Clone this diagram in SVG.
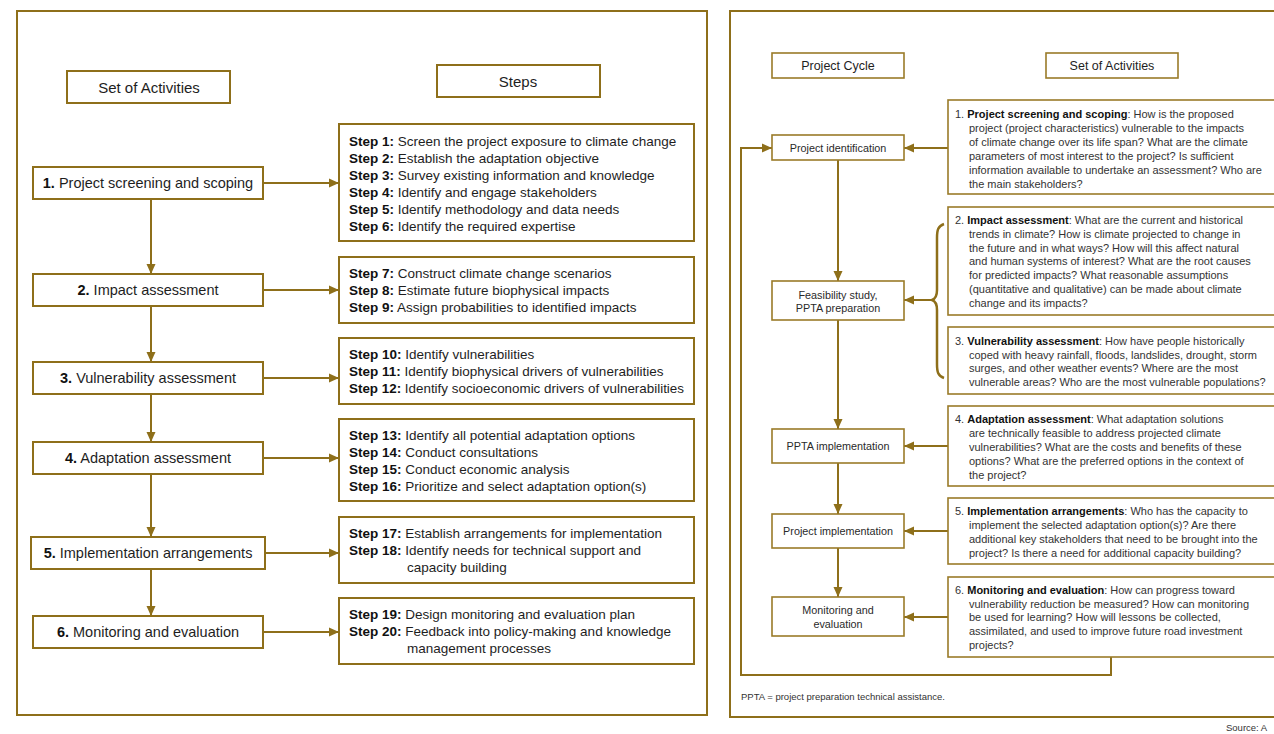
<svg xmlns="http://www.w3.org/2000/svg" width="1274" height="734" viewBox="0 0 1274 734">
<style>
.panel{fill:none;stroke:#8e6f1a;stroke-width:2}
.box{fill:#fff;stroke:#8e6f1a;stroke-width:2}
.rbox{fill:#fff;stroke:#9a7b28;stroke-width:1.6}
.ln{fill:none;stroke:#8e6f1a;stroke-width:2}
.t{font-family:"Liberation Sans",Arial,sans-serif;fill:#1e1e1e}
.hd{font-size:15px;text-anchor:middle}
.act{font-size:14.5px;text-anchor:middle}
.st{font-size:13.5px}
.rh{font-size:12.5px;text-anchor:middle}
.cy{font-size:10.8px;text-anchor:middle;fill:#2a2a2a}
.q{font-size:11px;fill:#333}
.b{font-weight:bold;fill:#111}
.fn{font-size:9.5px;fill:#333}
</style>
<defs>
<marker id="ah" markerUnits="userSpaceOnUse" markerWidth="10" markerHeight="10" viewBox="0 0 10 10" refX="10" refY="5" orient="auto">
<path d="M0,0.5 L10,5 L0,9.5 Z" fill="#8e6f1a"/>
</marker>
</defs>

<rect class="panel" x="17" y="11" width="690" height="704"/>
<rect class="panel" x="730" y="11" width="560" height="706"/>

<!-- Left panel headers -->
<g id="hdr-left-activities"><rect class="box" x="67" y="71" width="163" height="32"/><text class="t hd" x="149" y="93">Set of Activities</text></g>
<g id="hdr-left-steps"><rect class="box" x="437" y="65" width="163" height="32"/><text class="t hd" x="518" y="87">Steps</text></g>

<!-- Connectors -->
<g id="connectors">
<line class="ln" x1="151" y1="199" x2="151" y2="274" marker-end="url(#ah)"/>
<line class="ln" x1="151" y1="306" x2="151" y2="362" marker-end="url(#ah)"/>
<line class="ln" x1="151" y1="394" x2="151" y2="442" marker-end="url(#ah)"/>
<line class="ln" x1="151" y1="474" x2="151" y2="537" marker-end="url(#ah)"/>
<line class="ln" x1="151" y1="569" x2="151" y2="616" marker-end="url(#ah)"/>
<line class="ln" x1="264" y1="183" x2="339" y2="183" marker-end="url(#ah)"/>
<line class="ln" x1="264" y1="290" x2="339" y2="290" marker-end="url(#ah)"/>
<line class="ln" x1="264" y1="378" x2="339" y2="378" marker-end="url(#ah)"/>
<line class="ln" x1="264" y1="458" x2="339" y2="458" marker-end="url(#ah)"/>
<line class="ln" x1="265" y1="553" x2="339" y2="553" marker-end="url(#ah)"/>
<line class="ln" x1="264" y1="632" x2="339" y2="632" marker-end="url(#ah)"/>

<line class="ln" x1="838" y1="160" x2="838" y2="281" marker-end="url(#ah)"/>
<line class="ln" x1="838" y1="320" x2="838" y2="429" marker-end="url(#ah)"/>
<line class="ln" x1="838" y1="463" x2="838" y2="514" marker-end="url(#ah)"/>
<line class="ln" x1="838" y1="548" x2="838" y2="597" marker-end="url(#ah)"/>
<line class="ln" x1="948" y1="148" x2="904" y2="148" marker-end="url(#ah)"/>
<line class="ln" x1="932" y1="300" x2="904" y2="300" marker-end="url(#ah)"/>
<line class="ln" x1="948" y1="446" x2="904" y2="446" marker-end="url(#ah)"/>
<line class="ln" x1="948" y1="531" x2="904" y2="531" marker-end="url(#ah)"/>
<line class="ln" x1="948" y1="617" x2="904" y2="617" marker-end="url(#ah)"/>
<path class="ln" d="M1111,657 V675 H741 V148 H772" marker-end="url(#ah)"/>
<path d="M944,224 C938,226 937,230 937,238 V290 C937,296 935,299 932,300 C935,301 937,304 937,310 V364 C937,372 938,376 944,378" fill="none" stroke="#8e6f1a" stroke-width="2.5"/>
</g>

<!-- Left activities -->
<g id="act1"><rect class="box" x="33" y="167" width="230" height="32"/><text class="t act" x="148" y="188"><tspan class="b">1.</tspan> Project screening and scoping</text></g>
<g id="act2"><rect class="box" x="33" y="274" width="230" height="32"/><text class="t act" x="148" y="295"><tspan class="b">2.</tspan> Impact assessment</text></g>
<g id="act3"><rect class="box" x="33" y="362" width="230" height="32"/><text class="t act" x="148" y="383"><tspan class="b">3.</tspan> Vulnerability assessment</text></g>
<g id="act4"><rect class="box" x="33" y="442" width="230" height="32"/><text class="t act" x="148" y="463"><tspan class="b">4.</tspan> Adaptation assessment</text></g>
<g id="act5"><rect class="box" x="31" y="537" width="234" height="32"/><text class="t act" x="148" y="558"><tspan class="b">5.</tspan> Implementation arrangements</text></g>
<g id="act6"><rect class="box" x="33" y="616" width="230" height="32"/><text class="t act" x="148" y="637"><tspan class="b">6.</tspan> Monitoring and evaluation</text></g>

<!-- Step boxes -->
<g id="steps1"><rect class="box" x="339" y="124" width="355" height="117"/>
<text class="t st" x="349" y="146"><tspan class="b">Step 1:</tspan> Screen the project exposure to climate change</text>
<text class="t st" x="349" y="163"><tspan class="b">Step 2:</tspan> Establish the adaptation objective</text>
<text class="t st" x="349" y="180"><tspan class="b">Step 3:</tspan> Survey existing information and knowledge</text>
<text class="t st" x="349" y="197"><tspan class="b">Step 4:</tspan> Identify and engage stakeholders</text>
<text class="t st" x="349" y="214"><tspan class="b">Step 5:</tspan> Identify methodology and data needs</text>
<text class="t st" x="349" y="231"><tspan class="b">Step 6:</tspan> Identify the required expertise</text>
</g>
<g id="steps2"><rect class="box" x="339" y="257" width="355" height="66"/>
<text class="t st" x="349" y="278"><tspan class="b">Step 7:</tspan> Construct climate change scenarios</text>
<text class="t st" x="349" y="295"><tspan class="b">Step 8:</tspan> Estimate future biophysical impacts</text>
<text class="t st" x="349" y="312"><tspan class="b">Step 9:</tspan> Assign probabilities to identified impacts</text>
</g>
<g id="steps3"><rect class="box" x="339" y="338" width="355" height="66"/>
<text class="t st" x="349" y="359"><tspan class="b">Step 10:</tspan> Identify vulnerabilities</text>
<text class="t st" x="349" y="376"><tspan class="b">Step 11:</tspan> Identify biophysical drivers of vulnerabilities</text>
<text class="t st" x="349" y="393" textLength="335" lengthAdjust="spacingAndGlyphs"><tspan class="b">Step 12:</tspan> Identify socioeconomic drivers of vulnerabilities</text>
</g>
<g id="steps4"><rect class="box" x="339" y="419" width="355" height="82"/>
<text class="t st" x="349" y="440"><tspan class="b">Step 13:</tspan> Identify all potential adaptation options</text>
<text class="t st" x="349" y="457"><tspan class="b">Step 14:</tspan> Conduct consultations</text>
<text class="t st" x="349" y="474"><tspan class="b">Step 15:</tspan> Conduct economic analysis</text>
<text class="t st" x="349" y="491"><tspan class="b">Step 16:</tspan> Prioritize and select adaptation option(s)</text>
</g>
<g id="steps5"><rect class="box" x="339" y="517" width="355" height="66"/>
<text class="t st" x="349" y="538"><tspan class="b">Step 17:</tspan> Establish arrangements for implementation</text>
<text class="t st" x="349" y="555"><tspan class="b">Step 18:</tspan> Identify needs for technical support and</text>
<text class="t st" x="407" y="572">capacity building</text>
</g>
<g id="steps6"><rect class="box" x="339" y="598" width="355" height="66"/>
<text class="t st" x="349" y="619"><tspan class="b">Step 19:</tspan> Design monitoring and evaluation plan</text>
<text class="t st" x="349" y="636"><tspan class="b">Step 20:</tspan> Feedback into policy-making and knowledge</text>
<text class="t st" x="407" y="653">management processes</text>
</g>

<!-- Right panel headers -->
<g id="hdr-cycle"><rect class="rbox" x="772" y="53" width="132" height="25"/><text class="t rh" x="838" y="70">Project Cycle</text></g>
<g id="hdr-right-activities"><rect class="rbox" x="1046" y="53" width="132" height="25"/><text class="t rh" x="1112" y="70">Set of Activities</text></g>

<!-- Cycle boxes -->
<g id="cyc1"><rect class="rbox" x="772" y="135" width="132" height="25"/><text class="t cy" x="838" y="152">Project identification</text></g>
<g id="cyc2"><rect class="rbox" x="772" y="281" width="132" height="39"/><text class="t cy" x="838" y="299">Feasibility study,</text><text class="t cy" x="838" y="312">PPTA preparation</text></g>
<g id="cyc3"><rect class="rbox" x="772" y="429" width="132" height="34"/><text class="t cy" x="838" y="450">PPTA implementation</text></g>
<g id="cyc4"><rect class="rbox" x="772" y="514" width="132" height="34"/><text class="t cy" x="838" y="535">Project implementation</text></g>
<g id="cyc5"><rect class="rbox" x="772" y="597" width="132" height="39"/><text class="t cy" x="838" y="614">Monitoring and</text><text class="t cy" x="838" y="628">evaluation</text></g>

<!-- Question boxes -->
<g id="q1"><rect class="rbox" x="948" y="100" width="340" height="94"/>
<text class="t q" x="955" y="118">1. <tspan class="b">Project screening and scoping</tspan>: How is the proposed</text>
<text class="t q" x="969" y="132">project (project characteristics) vulnerable to the impacts</text>
<text class="t q" x="969" y="146">of climate change over its life span? What are the climate</text>
<text class="t q" x="969" y="160">parameters of most interest to the project? Is sufficient</text>
<text class="t q" x="969" y="174">information available to undertake an assessment? Who are</text>
<text class="t q" x="969" y="188">the main stakeholders?</text>
</g>
<g id="q2"><rect class="rbox" x="948" y="207" width="340" height="108"/>
<text class="t q" x="955" y="224">2. <tspan class="b">Impact assessment</tspan>: What are the current and historical</text>
<text class="t q" x="969" y="238">trends in climate? How is climate projected to change in</text>
<text class="t q" x="969" y="252">the future and in what ways? How will this affect natural</text>
<text class="t q" x="969" y="265">and human systems of interest? What are the root causes</text>
<text class="t q" x="969" y="279">for predicted impacts? What reasonable assumptions</text>
<text class="t q" x="969" y="293">(quantitative and qualitative) can be made about climate</text>
<text class="t q" x="969" y="307">change and its impacts?</text>
</g>
<g id="q3"><rect class="rbox" x="948" y="327" width="340" height="67"/>
<text class="t q" x="955" y="345">3. <tspan class="b">Vulnerability assessment</tspan>: How have people historically</text>
<text class="t q" x="969" y="359">coped with heavy rainfall, floods, landslides, drought, storm</text>
<text class="t q" x="969" y="372">surges, and other weather events? Where are the most</text>
<text class="t q" x="969" y="386">vulnerable areas? Who are the most vulnerable populations?</text>
</g>
<g id="q4"><rect class="rbox" x="948" y="406" width="340" height="80"/>
<text class="t q" x="955" y="423">4. <tspan class="b">Adaptation assessment</tspan>: What adaptation solutions</text>
<text class="t q" x="969" y="437">are technically feasible to address projected climate</text>
<text class="t q" x="969" y="451">vulnerabilities? What are the costs and benefits of these</text>
<text class="t q" x="969" y="465">options? What are the preferred options in the context of</text>
<text class="t q" x="969" y="479">the project?</text>
</g>
<g id="q5"><rect class="rbox" x="948" y="498" width="340" height="66"/>
<text class="t q" x="955" y="515">5. <tspan class="b">Implementation arrangements</tspan>: Who has the capacity to</text>
<text class="t q" x="969" y="529">implement the selected adaptation option(s)? Are there</text>
<text class="t q" x="969" y="543">additional key stakeholders that need to be brought into the</text>
<text class="t q" x="969" y="557">project? Is there a need for additional capacity building?</text>
</g>
<g id="q6"><rect class="rbox" x="948" y="577" width="340" height="80"/>
<text class="t q" x="955" y="594">6. <tspan class="b">Monitoring and evaluation</tspan>: How can progress toward</text>
<text class="t q" x="969" y="608">vulnerability reduction be measured? How can monitoring</text>
<text class="t q" x="969" y="621">be used for learning? How will lessons be collected,</text>
<text class="t q" x="969" y="635">assimilated, and used to improve future road investment</text>
<text class="t q" x="969" y="649">projects?</text>
</g>

<text class="t fn" x="741" y="700">PPTA = project preparation technical assistance.</text>
<text class="t fn" x="1226" y="731">Source: A</text>
</svg>
